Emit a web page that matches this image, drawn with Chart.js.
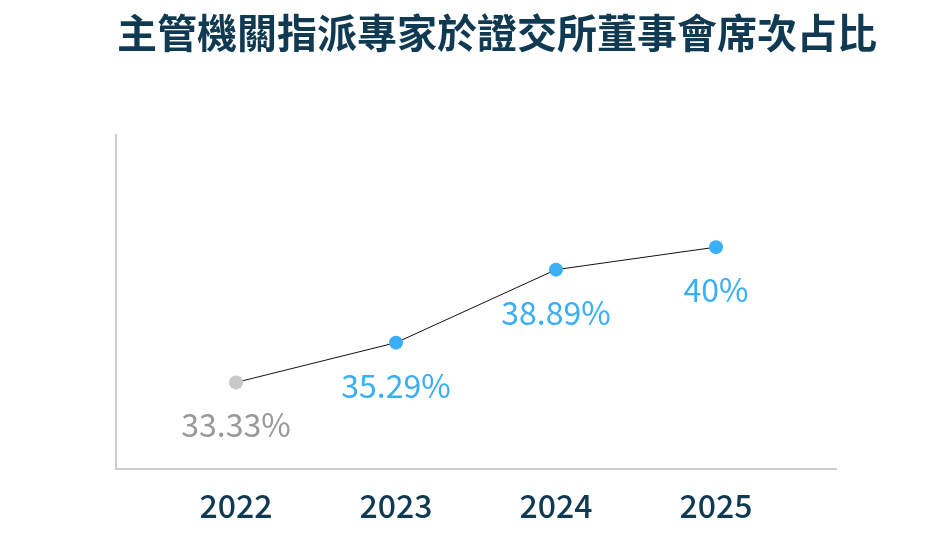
<!DOCTYPE html>
<html>
<head>
<meta charset="utf-8">
<script src="https://cdn.jsdelivr.net/npm/chart.js@4/dist/chart.umd.min.js"></script>
<style>
  html, body { margin: 0; padding: 0; background: #fff; }
  #wrap { width: 952px; height: 560px; }
</style>
</head>
<body>
<div id="wrap"><canvas id="lineChart"></canvas></div>
<script>
// data
const years = ['2022', '2023', '2024', '2025'];
const shares = [33.33, 35.29, 38.89, 40];
const shareLabels = ['33.33%', '35.29%', '38.89%', '40%'];
const pointColors = ['#c8c8c8', '#3aaef7', '#3aaef7', '#3aaef7'];
const labelColors = ['#999999', '#3aaef7', '#3aaef7', '#3aaef7'];
const chartTitle = '主管機關指派專家於證交所董事會席次占比';

const navy = '#0f3a52';
const fontFamily = '"Noto Sans CJK TC", "Noto Sans", sans-serif';

// value labels under each point + title (title sits off-centre in the original)
let pointLabels = {
    id: 'pointLabels',
    afterDatasetsDraw(chart) {
        const ctx = chart.ctx;
        const meta = chart.getDatasetMeta(0);
        ctx.save();
        ctx.font = '400 32px ' + fontFamily;
        ctx.textAlign = 'center';
        ctx.textBaseline = 'alphabetic';
        meta.data.forEach((pt, i) => {
            ctx.fillStyle = labelColors[i];
            ctx.fillText(shareLabels[i], pt.x, pt.y + 55);
        });

        ctx.font = '700 40px ' + fontFamily;
        ctx.fillStyle = navy;
        ctx.textAlign = 'left';
        ctx.textBaseline = 'middle';
        ctx.fillText(chartTitle, 117, 33);
        ctx.restore();
    }
};

let ctx = document.getElementById('lineChart').getContext('2d');
window.myLine = new Chart(ctx, {
    type: 'line',
    data: {
        datasets: [{
            data: shares.map((v, i) => ({x: i, y: v})),
            borderColor: '#111',
            borderWidth: 1,
            pointRadius: 7,
            pointHoverRadius: 7,
            pointBorderWidth: 0,
            pointBackgroundColor: pointColors,
            pointBorderColor: pointColors,
            tension: 0
        }]
    },
    options: {
        responsive: true,
        maintainAspectRatio: false,
        animation: false,
        layout: {
            padding: {left: 108, right: 116, top: 135, bottom: 25}
        },
        plugins: {
            legend: {display: false},
            tooltip: {enabled: false},
            title: {display: false}
        },
        scales: {
            x: {
                type: 'linear',
                min: -0.75,
                max: 3.75,
                afterBuildTicks: (scale) => {
                    scale.ticks = years.map((y, i) => ({value: i}));
                },
                grid: {display: false},
                border: {display: true, color: '#cccccc', width: 2},
                ticks: {
                    padding: 10,
                    color: navy,
                    font: {family: fontFamily, size: 32, weight: '500'},
                    callback: (v) => years[v]
                }
            },
            y: {
                min: 29.08,
                max: 45.53,
                grid: {display: false},
                border: {display: true, color: '#cccccc', width: 2},
                ticks: {display: false}
            }
        }
    },
    plugins: [pointLabels]
});
</script>
</body>
</html>
